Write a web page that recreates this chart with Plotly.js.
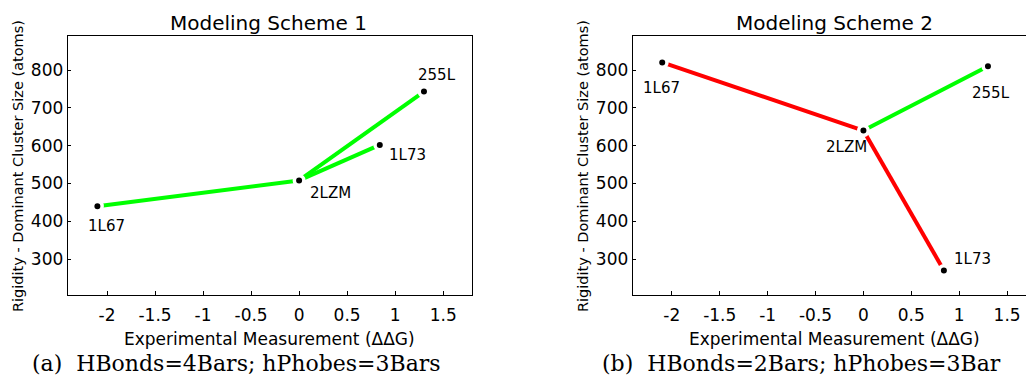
<!DOCTYPE html>
<html>
<head>
<meta charset="utf-8">
<script src="https://cdn.plot.ly/plotly-3.0.1.min.js"></script>
<style>
  html, body { margin: 0; padding: 0; background: #ffffff; overflow: hidden; }
  #chart { width: 1026px; height: 375px; }
</style>
</head>
<body>
<div id="chart"></div>
<script>
// ---------------- data ----------------
const proteins = ['1L67', '2LZM', '1L73', '255L'];
const ddG = [-2.1, 0, 0.84, 1.3];                 // experimental measurement (ΔΔG)
const scheme1Size = [440, 508, 602, 743];         // dominant cluster size (atoms), scheme 1
const scheme2Size = [820, 640, 270, 810];         // dominant cluster size (atoms), scheme 2
const referenceProtein = '2LZM';
const panelTitles = ['Modeling Scheme 1', 'Modeling Scheme 2'];
const panelCaptions = ['(a)  HBonds=4Bars; hPhobes=3Bars', '(b)  HBonds=2Bars; hPhobes=3Bar'];
const xTickVals = [-2, -1.5, -1, -0.5, 0, 0.5, 1, 1.5];
const xTickText = ['-2', '-1.5', '-1', '-0.5', '0', '0.5', '1', '1.5'];
const yTickVals = [300, 400, 500, 600, 700, 800];
const yTickText = ['300', '400', '500', '600', '700', '800'];
const xTitle = 'Experimental Measurement (ΔΔG)';
const yTitle = 'Rigidity - Dominant Cluster Size (atoms)';

// ---------------- styles ----------------
const GREEN = '#00ff00', RED = '#ff0000';
const FONT = 'DejaVu Sans, Liberation Sans, Arial, sans-serif';
const SERIF = 'DejaVu Serif, Liberation Serif, serif';
// label offsets in px (xshift, yshift) per protein, per panel
const labelOffsets = [
  { '1L67': [9, -20], '2LZM': [31, -13], '1L73': [28, -10], '255L': [13, 17] },
  { '1L67': [-1, -26], '2LZM': [-17, -16], '1L73': [29, 11], '255L': [3, -27] }
];
const W = 1026, H = 375;
const panels = [
  { xdom: [68 / W, 472 / W], xrange: [-2.406, 1.80], mirrorY: true, xref: 'x', yref: 'y', sizes: scheme1Size },
  { xdom: [633 / W, 1.0], xrange: [-2.405, 1.697], mirrorY: false, xref: 'x2', yref: 'y2', sizes: scheme2Size }
];
const yDom = [80 / H, 339 / H];
const yRange = [205, 890];

const traces = [];
const annotations = [];
const refIdx = proteins.indexOf(referenceProtein);

panels.forEach((p, k) => {
  const sizes = p.sizes;
  // edges from the reference protein to each mutant
  proteins.forEach((name, i) => {
    if (i === refIdx) return;
    const dx = ddG[i] - ddG[refIdx];
    const dy = sizes[i] - sizes[refIdx];
    const agree = Math.sign(dx) === Math.sign(dy);
    traces.push({
      type: 'scatter', mode: 'lines',
      x: [ddG[refIdx], ddG[i]], y: [sizes[refIdx], sizes[i]],
      xaxis: p.xref, yaxis: p.yref,
      line: { color: agree ? GREEN : RED, width: 4 },
      hoverinfo: 'skip', showlegend: false
    });
  });
  // points
  traces.push({
    type: 'scatter', mode: 'markers',
    x: ddG, y: sizes, text: proteins,
    xaxis: p.xref, yaxis: p.yref,
    marker: { color: '#000000', size: 9.5, line: { color: '#ffffff', width: 3.5 } },
    hoverinfo: 'text+x+y', showlegend: false, cliponaxis: false
  });
  // point labels
  proteins.forEach((name, i) => {
    const off = labelOffsets[k][name];
    annotations.push({
      xref: p.xref, yref: p.yref, x: ddG[i], y: sizes[i],
      text: name, showarrow: false, xshift: off[0], yshift: off[1],
      font: { family: FONT, size: 15, color: '#000000' },
      xanchor: 'center', yanchor: 'middle'
    });
  });
});

// panel titles, axis titles and captions
const titleX = [268.5, 834];
const captionX = [236.5, 801.5];
const xTitleX = [269, 834];
const yTitleX = [18, 583];
panelTitles.forEach((t, k) => {
  annotations.push({
    xref: 'paper', yref: 'paper', x: titleX[k] / W, y: 1 - 23 / H,
    text: t, showarrow: false, xanchor: 'center', yanchor: 'middle',
    font: { family: FONT, size: 20, color: '#000000' }
  });
  annotations.push({
    xref: 'paper', yref: 'paper', x: xTitleX[k] / W, y: 1 - 339 / H,
    text: xTitle, showarrow: false, xanchor: 'center', yanchor: 'middle',
    font: { family: FONT, size: 17, color: '#000000' }
  });
  annotations.push({
    xref: 'paper', yref: 'paper', x: yTitleX[k] / W, y: 1 - 166 / H,
    text: yTitle, showarrow: false, xanchor: 'center', yanchor: 'middle', textangle: -90,
    font: { family: FONT, size: 14.5, color: '#000000' }
  });
  annotations.push({
    xref: 'paper', yref: 'paper', x: captionX[k] / W, y: 1 - 363 / H,
    text: panelCaptions[k], showarrow: false, xanchor: 'center', yanchor: 'middle',
    font: { family: SERIF, size: 22, color: '#000000' }
  });
});

function xAxis(p, anchor) {
  return {
    domain: p.xdom, range: p.xrange, anchor: anchor,
    tickmode: 'array', tickvals: xTickVals, ticktext: xTickText,
    ticks: 'inside', ticklen: 4, tickwidth: 1, tickcolor: '#000',
    showline: true, linecolor: '#000', linewidth: 1.3, mirror: true,
    showgrid: false, zeroline: false, ticklabelstandoff: 4,
    tickfont: { family: FONT, size: 17, color: '#000' },
    fixedrange: true
  };
}
function yAxis(p, anchor) {
  return {
    domain: yDom, range: yRange, anchor: anchor,
    tickmode: 'array', tickvals: yTickVals, ticktext: yTickText,
    ticks: 'inside', ticklen: 3, tickwidth: 1, tickcolor: '#000',
    showline: true, linecolor: '#000', linewidth: 1.3, mirror: p.mirrorY,
    showgrid: false, zeroline: false, ticklabelstandoff: 0,
    tickfont: { family: FONT, size: 17, color: '#000' },
    fixedrange: true
  };
}

const layout = {
  width: W, height: H,
  margin: { l: 0, r: 0, t: 0, b: 0 },
  paper_bgcolor: '#ffffff', plot_bgcolor: '#ffffff',
  showlegend: false,
  xaxis: xAxis(panels[0], 'y'),
  yaxis: yAxis(panels[0], 'x'),
  xaxis2: xAxis(panels[1], 'y2'),
  yaxis2: yAxis(panels[1], 'x2'),
  annotations: annotations,
  font: { family: FONT, color: '#000' }
};

Plotly.newPlot('chart', traces, layout, { displayModeBar: false, staticPlot: true });
</script>
</body>
</html>
